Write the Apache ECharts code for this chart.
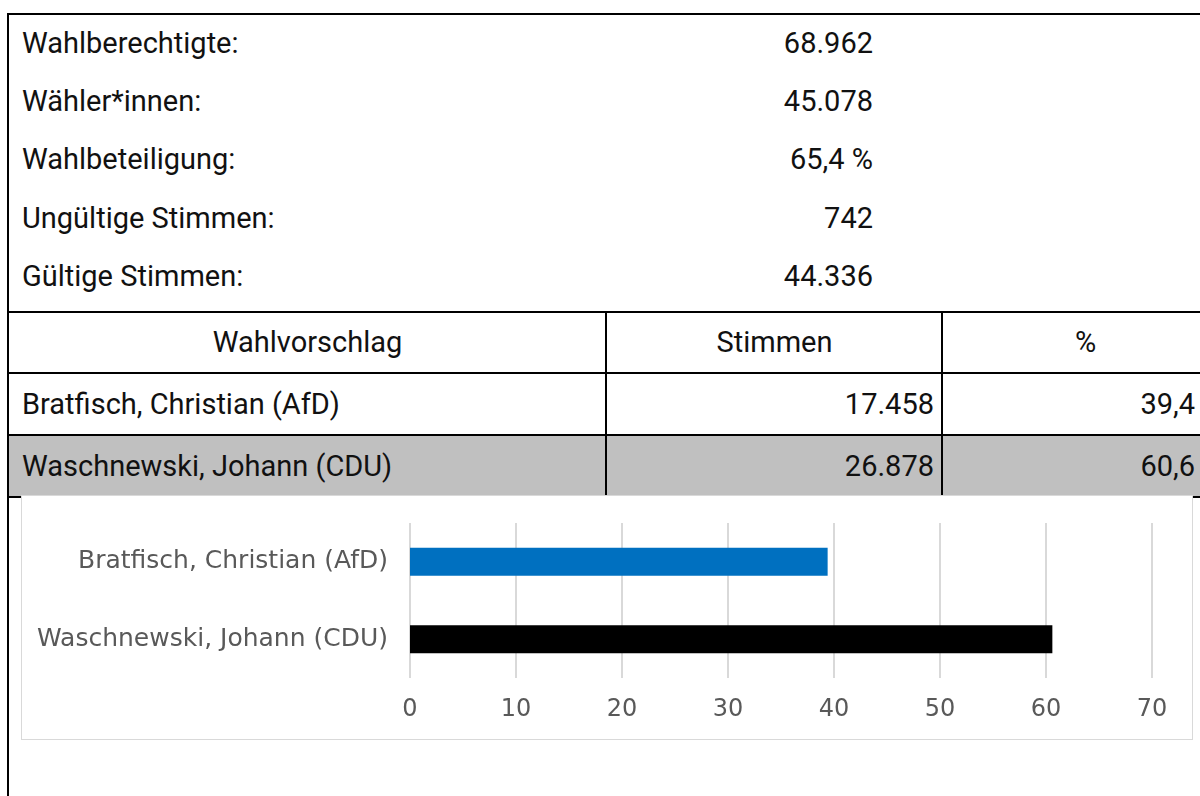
<!DOCTYPE html>
<html>
<head>
<meta charset="utf-8">
<script src="https://cdn.jsdelivr.net/npm/echarts@6/dist/echarts.min.js"></script>
<style>
    html, body { margin: 0; padding: 0; background: #fff; }
    #page { position: relative; width: 1200px; height: 796px; overflow: hidden; font-family: Roboto, sans-serif; color: #111; }
    .frame { position: absolute; left: 7px; top: 13px; width: 1300px; height: 900px; border-left: 2px solid #000; border-top: 2px solid #000; }
    .row { position: absolute; left: 22px; width: 851px; height: 40px; line-height: 40px; font-size: 29px; }
    .row .val { position: absolute; right: 0; top: 0; }
    .hline { position: absolute; left: 8px; width: 1200px; height: 2px; background: #000; }
    .vline { position: absolute; top: 311px; width: 2px; height: 186px; background: #000; }
    .cell { position: absolute; height: 62px; line-height: 62px; font-size: 29px; }
    .grey { position: absolute; left: 9px; top: 436px; width: 1200px; height: 61px; background: #c0c0c0; }
    #chart { position: absolute; left: 21px; top: 495px; width: 1172px; height: 245px; border: 1px solid #d9d9d9; box-sizing: border-box; background: #fff; }
</style>
</head>
<body>
<div id="page">
    <div class="frame"></div>
    <div class="grey"></div>
    <div id="table"></div>
    <div class="hline" style="top:311px"></div>
    <div class="hline" style="top:372px"></div>
    <div class="hline" style="top:434px"></div>
    <div class="hline" style="top:496px"></div>
    <div class="vline" style="left:605px"></div>
    <div class="vline" style="left:941px"></div>
    <div id="chart"></div>
</div>
<script>
    // Kopfdaten
    var summaryLabels = ['Wahlberechtigte:', 'Wähler*innen:', 'Wahlbeteiligung:', 'Ungültige Stimmen:', 'Gültige Stimmen:'];
    var summaryValues = ['68.962', '45.078', '65,4 %', '742', '44.336'];

    // Ergebnis
    var tableHeader = ['Wahlvorschlag', 'Stimmen', '%'];
    var candidates = ['Bratfisch, Christian (AfD)', 'Waschnewski, Johann (CDU)'];
    var votes = ['17.458', '26.878'];
    var percents = [39.4, 60.6];
    var barColors = ['#0070c0', '#000000'];
    var xTicks = [0, 70, 10];

    var html = '';
    var rowTops = [23, 81, 139, 198, 256];
    summaryLabels.forEach(function (label, i) {
        html += '<div class="row" style="top:' + rowTops[i] + 'px">' + label +
            '<span class="val">' + summaryValues[i] + '</span></div>';
    });
    // Kopfzeile
    html += '<div class="cell" style="top:311px;left:9px;width:597px;text-align:center">' + tableHeader[0] + '</div>';
    html += '<div class="cell" style="top:311px;left:607px;width:335px;text-align:center">' + tableHeader[1] + '</div>';
    html += '<div class="cell" style="top:311px;left:943px;width:285px;text-align:center">' + tableHeader[2] + '</div>';
    candidates.forEach(function (name, i) {
        var top = 373 + i * 62;
        html += '<div class="cell" style="top:' + top + 'px;left:22px">' + name + '</div>';
        html += '<div class="cell" style="top:' + top + 'px;left:607px;width:327px;text-align:right">' + votes[i] + '</div>';
        html += '<div class="cell" style="top:' + top + 'px;left:943px;width:252px;text-align:right">' +
            percents[i].toFixed(1).replace('.', ',') + '</div>';
    });
    document.getElementById('table').innerHTML = html;

    var chart = echarts.init(document.getElementById('chart'));
    chart.setOption({
        animation: false,
        grid: {
            left: 388,
            right: 40,
            top: 27,
            bottom: 61
        },
        xAxis: {
            type: 'value',
            min: xTicks[0],
            max: xTicks[1],
            interval: xTicks[2],
            axisLine: { show: false },
            axisTick: { show: false },
            axisLabel: {
                color: '#595959',
                fontFamily: 'DejaVu Sans',
                fontSize: 24,
                margin: 20
            },
            splitLine: {
                lineStyle: { color: '#d9d9d9', width: 2 }
            }
        },
        yAxis: {
            type: 'category',
            inverse: true,
            data: candidates,
            axisLine: { show: false },
            axisTick: { show: false },
            axisLabel: {
                color: '#595959',
                fontFamily: 'DejaVu Sans',
                fontSize: 25,
                margin: 22
            }
        },
        series: [{
            type: 'bar',
            barWidth: 28,
            data: percents.map(function (v, i) {
                return { value: v, itemStyle: { color: barColors[i] } };
            })
        }]
    });
</script>
</body>
</html>
